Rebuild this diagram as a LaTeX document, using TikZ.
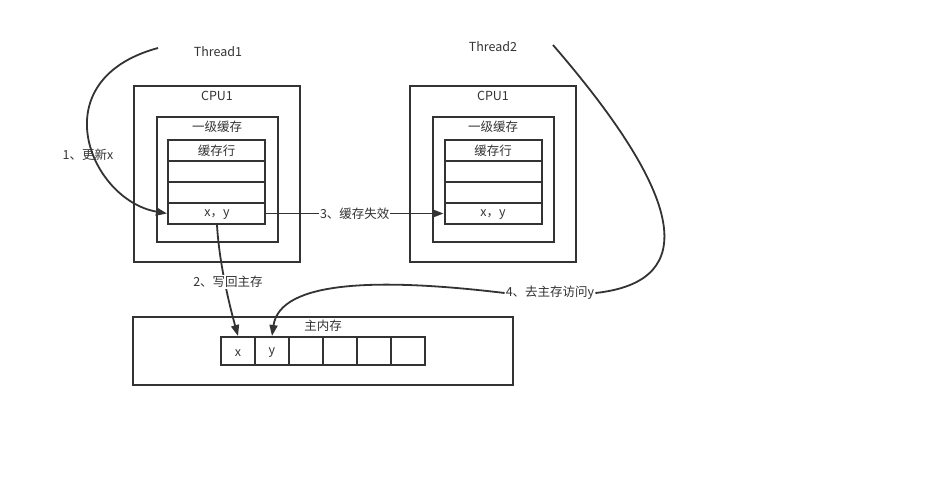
\documentclass[tikz,border=0pt]{standalone}
\usepackage{fontspec}
\setmainfont{Noto Sans CJK SC}
\usetikzlibrary{arrows.meta}
\definecolor{ink}{HTML}{333333}
\begin{document}
\begin{tikzpicture}[x=1pt,y=-1pt,
  box/.style={draw=ink,line width=2pt,inner sep=0pt},
  txt/.style={text=ink,font=\fontsize{12.5}{14}\selectfont,inner sep=1pt},
  conn/.style={draw=ink,line width=1.8pt,-{Triangle[length=11pt,width=8pt]}},
  lab/.style={txt,fill=white,inner sep=1pt}]
\useasboundingbox (0,0) rectangle (943,498);
% ---- CPU 1
\node[box,minimum width=166pt,minimum height=176pt] (cpuA) at (217,174) {};
\node[txt] (cpuAt) at (217,96) {CPU1};
\node[box,minimum width=121pt,minimum height=125pt] (l1A) at (217,179) {};
\node[txt] (l1At) at (217,127) {一级缓存};
\node[box,minimum width=97pt,minimum height=21pt] (rA1) at (216.5,150.5) {};
\node[txt] at (rA1) {缓存行};
\node[box,minimum width=97pt,minimum height=21pt] (rA2) at (216.5,171.5) {};
\node[box,minimum width=97pt,minimum height=21pt] (rA3) at (216.5,192.5) {};
\node[box,minimum width=97pt,minimum height=21pt] (rA4) at (216.5,213.5) {};
\node[txt] at (217,215) {x，y};
\node[txt] (th1) at (218,52) {Thread1};
% ---- CPU 2
\node[box,minimum width=166pt,minimum height=176pt] (cpuB) at (493,174) {};
\node[txt] (cpuBt) at (493,96) {CPU1};
\node[box,minimum width=121pt,minimum height=125pt] (l1B) at (493,179) {};
\node[txt] (l1Bt) at (493,127) {一级缓存};
\node[box,minimum width=97pt,minimum height=21pt] (rB1) at (493,150.5) {};
\node[txt] at (rB1) {缓存行};
\node[box,minimum width=97pt,minimum height=21pt] (rB2) at (493,171.5) {};
\node[box,minimum width=97pt,minimum height=21pt] (rB3) at (493,192.5) {};
\node[box,minimum width=97pt,minimum height=21pt] (rB4) at (493,213.5) {};
\node[txt] at (493,215) {x，y};
\node[txt] (th2) at (493,47) {Thread2};
% ---- main memory
\node[box,minimum width=380pt,minimum height=68pt] (mem) at (323.3,351) {};
\node[txt] (memt) at (323,326) {主内存};
\foreach \i/\t in {0/x,1/y,2/{},3/{},4/{},5/{}}{
  \node[box,minimum width=34pt,minimum height=28pt] (m\i) at (238+34*\i,351) {};
  \node[txt] at (238+34*\i,353) {\t};
}
% ---- connectors
\coordinate (s1) at (158,48);
\coordinate (s2) at (553,45);
\draw[conn] (s1) .. controls (40,80) and (90,200) .. (rA4.west);
\node[txt] (lab1) at (88,155) {1、更新x};
\draw[conn] (rA4.south -| 217,0) .. controls (219,260) and (228,300) .. (m0.north);
\node[lab] (lab2) at (228,282) {2、写回主存};
\draw[conn] (rA4.east) -- (rB4.west) node[lab,midway] (lab3) {3、缓存失效};
\node[lab] (lab4) at (550,293) {4、去主存访问y};
\draw[draw=ink,line width=1.8pt] (s2) .. controls (700,215) and (688,283) .. (lab4.east);
\draw[conn] (lab4.west) .. controls (380,278) and (280,280) .. (m1.north);
\end{tikzpicture}
\end{document}
